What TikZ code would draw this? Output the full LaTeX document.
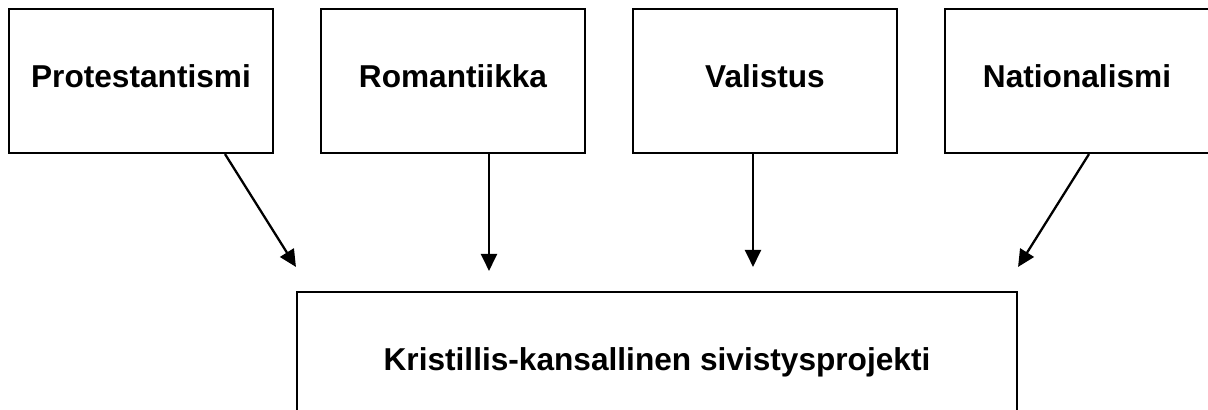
\documentclass[tikz,border=0pt]{standalone}
\usepackage{fontspec}
\setmainfont{Liberation Sans}
\usepackage{tikz}
\usetikzlibrary{arrows.meta,positioning,calc}

\tikzset{
  srcbox/.style={draw, line width=1.2pt, minimum width=5.28cm, minimum height=2.88cm,
    inner sep=0pt, text height=13pt, text depth=6pt,
    font=\fontsize{18}{21}\selectfont\bfseries},
  goalbox/.style={srcbox, minimum width=14.4cm},
  infl/.style={-{Triangle[length=3.4mm,width=3.2mm]}, line width=1.3pt}
}

\begin{document}
\begin{tikzpicture}
  % Frame of the picture
  \useasboundingbox (0,0) rectangle (24.16,-8.2);
  \clip (0,0) rectangle (24.16,-8.2);

  % The four sources
  \node[srcbox] (prot) at (2.82,-1.62) {Protestantismi};
  \node[srcbox] (roma) at (9.06,-1.62) {Romantiikka};
  \node[srcbox] (vali) at (15.30,-1.62) {Valistus};
  \node[srcbox] (nati) at (21.54,-1.62) {Nationalismi};

  % The common outcome
  \node[goalbox] (kris) at (13.14,-7.28) {Kristillis-kansallinen sivistysprojekti};

  % Where the two straight arrows leave and land
  \coordinate (roma-out) at ([xshift=0.72cm]roma.south);
  \coordinate (vali-out) at ([xshift=-0.24cm]vali.south);
  \coordinate (roma-in) at (roma-out |- kris.north);
  \coordinate (vali-in) at (vali-out |- kris.north);

  % Influences
  \draw[infl] ([xshift=1.68cm]prot.south) -- ([yshift=4.8mm]kris.north west);
  \draw[infl] (roma-out) -- ([yshift=4mm]roma-in);
  \draw[infl] (vali-out) -- ([yshift=4.8mm]vali-in);
  \draw[infl] ([xshift=0.24cm]nati.south) -- ([yshift=4.8mm]kris.north east);
\end{tikzpicture}
\end{document}
